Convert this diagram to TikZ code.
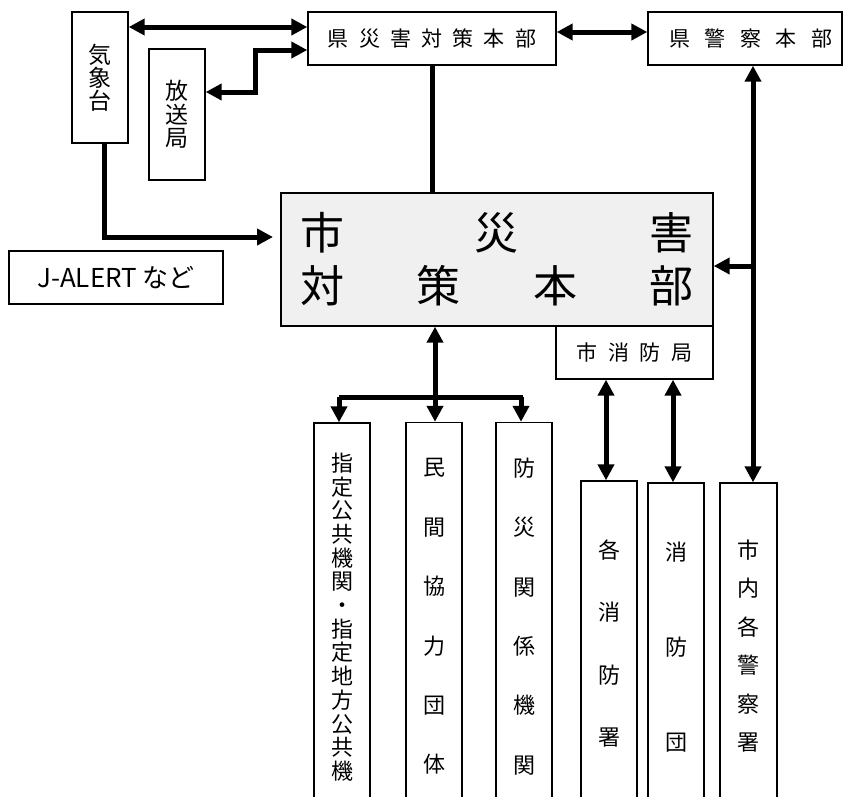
\documentclass[tikz,border=0pt]{standalone}
\usepackage{fontspec}
\newfontfamily\jp{Noto Sans CJK JP}
\usetikzlibrary{arrows.meta}
\newcommand\jpc[2]{\makebox[#1]{#2}}
\begin{document}
\begin{tikzpicture}[x=1pt,y=-1pt,
  box/.style={draw, line width=1.4pt, rectangle, inner sep=0pt, align=center,
    font=\jp\fontsize{21}{24}\selectfont},
  lnk/.style={line width=5pt},
  arr/.style={line width=5pt, -{Triangle[length=16pt,width=16pt]}},
  dbl/.style={line width=5pt, {Triangle[length=16pt,width=16pt]}-{Triangle[length=16pt,width=16pt]}}]
\clip (0,0) rectangle (843,796);
\fill[white] (0,0) rectangle (843,796);

% nodes
\node[box, minimum width=56pt, minimum height=131pt, font=\jp\fontsize{23}{23}\selectfont] (qm) at (100,77.5) {気\\象\\台};
\node[box, minimum width=56pt, minimum height=131pt, font=\jp\fontsize{23}{23.5}\selectfont] (hs) at (177,114.5) {放\\送\\局};
\node[box, minimum width=248pt, minimum height=53pt] (ken) at (432,38.5)
  {\jpc{31.2pt}{県}\jpc{31.2pt}{災}\jpc{31.2pt}{害}\jpc{31.2pt}{対}\jpc{31.2pt}{策}\jpc{31.2pt}{本}\jpc{31.2pt}{部}};
\node[box, minimum width=194pt, minimum height=53pt] (kei) at (745,38.5)
  {\hspace*{12pt}\jpc{35.5pt}{県}\jpc{35.5pt}{警}\jpc{35.5pt}{察}\jpc{35.5pt}{本}\jpc{35.5pt}{部}};
\node[box, minimum width=214pt, minimum height=53pt, font=\jp\fontsize{26}{28}\selectfont] (jal) at (116,277.5) {J-ALERT など};
\node[box, fill=gray!12, minimum width=432pt, minimum height=133pt, font=\jp\fontsize{44}{53}\selectfont] (main) at (497,259.5)
  {\makebox[393pt]{市\hfill 災\hfill 害}\\
   \makebox[393pt]{対\hfill 策\hfill 本\hfill 部}};
\node[box, minimum width=157pt, minimum height=53pt] (fire) at (634.5,352.5)
  {\jpc{31.7pt}{市}\jpc{31.7pt}{消}\jpc{31.7pt}{防}\jpc{31.7pt}{局}};
\node[box, minimum width=56pt, minimum height=388pt, font=\jp\fontsize{22}{23.7}\selectfont] (b1) at (342,617)
  {指\\定\\公\\共\\機\\関\\・\\指\\定\\地\\方\\公\\共\\機};
\node[box, minimum width=56pt, minimum height=388pt, font=\jp\fontsize{22}{59.4}\selectfont] (b2) at (434,616.5)
  {民\\間\\協\\力\\団\\体};
\node[box, minimum width=56pt, minimum height=388pt, font=\jp\fontsize{22}{59.4}\selectfont] (b3) at (524,616.5)
  {防\\災\\関\\係\\機\\関};
\node[box, minimum width=56pt, minimum height=325pt, font=\jp\fontsize{22}{62.3}\selectfont] (f1) at (609,643.5)
  {各\\消\\防\\署};
\node[box, minimum width=56pt, minimum height=328pt, font=\jp\fontsize{22}{95}\selectfont] (f2) at (676,647)
  {消\\防\\団};
\node[box, minimum width=57pt, minimum height=326pt, font=\jp\fontsize{22}{38.4}\selectfont] (p1) at (748.5,646)
  {市\\内\\各\\警\\察\\署};

% helper coordinates
\coordinate (ya) at (0,27);
\coordinate (yb) at (0,50);
\coordinate (yc) at (0,92);
\coordinate (yd) at (0,32);
\coordinate (ye) at (0,237);
\coordinate (yf) at (0,266);
\coordinate (yg) at (0,397);
\coordinate (xa) at (255,0);
\coordinate (xb) at (104,0);
\coordinate (xc) at (753,0);
\coordinate (xd) at (435,0);
\coordinate (xe) at (339,0);
\coordinate (xf) at (521,0);
\coordinate (xg) at (606,0);
\coordinate (xh) at (673,0);
\coordinate (xj) at (523,0);
\coordinate (xk) at (273,0);

% connectors
\draw[dbl] (qm.east |- ya) -- (ken.west |- ya);
\draw[dbl] (hs.east |- yc) -| (xa |- yb) -- (ken.west |- yb);
\draw[dbl] (ken.east |- yd) -- (kei.west |- yd);
\draw[lnk] (ken.south) -- (ken.south |- main.north);
\draw[arr] (xb |- qm.south) |- (xk |- ye);
\draw[dbl] (xc |- kei.south) -- (xc |- p1.north);
\draw[arr] (xc |- yf) -- (main.east |- yf);
\draw[arr] (xd |- yg) -- (xd |- main.south);
\draw[lnk] (xe |- yg) -- (xj |- yg);
\draw[arr] (xe |- yg) -- (xe |- b1.north);
\draw[arr] (xd |- yg) -- (xd |- b2.north);
\draw[arr] (xf |- yg) -- (xf |- b3.north);
\draw[dbl] (xg |- fire.south) -- (xg |- f1.north);
\draw[dbl] (xh |- fire.south) -- (xh |- f2.north);
\end{tikzpicture}
\end{document}
